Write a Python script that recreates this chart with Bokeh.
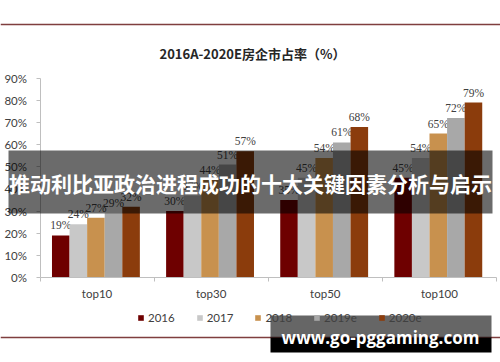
from bokeh.plotting import figure
from bokeh.models import (ColumnDataSource, FixedTicker, PrintfTickFormatter, Legend, LegendItem,
                          BoxAnnotation, Label, Range1d, LinearAxis)
from bokeh.embed import file_html
from bokeh.resources import INLINE

categories = ["top10", "top30", "top50", "top100"]
series = ["2016", "2017", "2018", "2019e", "2020e"]
s2016 = [19, 30, 35, 45]
s2017 = [24, 37, 45, 54]
s2018 = [27, 44, 54, 65]
s2019e = [29, 51, 61, 72]
s2020e = [32, 57, 68, 79]
values = [s2016, s2017, s2018, s2019e, s2020e]
colors = ["#6E0000", "#C8C8C8", "#C8914E", "#A8A8A8", "#8B3C0C"]
y_ticks = [0, 10, 20, 30, 40, 50, 60, 70, 80, 90]

title_text = "2016A-2020E房企市占率（%）"
banner_text = "推动利比亚政治进程成功的十大关键因素分析与启示"
watermark_text = "www.go-pggaming.com"

W, H = 500, 362
# plot-area placement in pixels (layout only)
PX_L, PX_R = 39.5, 496.0      # x = 0 and x = 4
PX_B, PX_T = 277.0, 77.7      # y = 0 and y = 90
kx = (PX_R - PX_L) / 4.0
ky = (PX_B - PX_T) / 90.0


def px2x(px):
    return (px - PX_L) / kx


def px2y(py):
    return (PX_B - py) / ky


p = figure(width=W, height=H, output_backend="svg", toolbar_location=None,
           x_axis_type=None, y_axis_type=None,
           x_range=Range1d(px2x(0), px2x(W)), y_range=Range1d(px2y(H), px2y(0)),
           min_border=0)
p.outline_line_color = None
p.xgrid.visible = False
p.ygrid.visible = False
p.background_fill_color = "white"

FONT = "Lato"
FS = "11.5px"
bw = 0.154
items = []
for i, (name, vals, col) in enumerate(zip(series, values, colors)):
    xs = [c + 0.5 + (i - 2) * bw - 0.01 for c in range(len(categories))]
    src = ColumnDataSource(dict(x=xs, top=vals, lab=[f"{v}%" for v in vals]))
    r = p.vbar(x="x", top="top", width=bw, source=src, fill_color=col, line_color=None)
    p.text(x="x", y="top", text="lab", source=src, text_align="center", text_baseline="bottom",
           y_offset=-4, text_font_size=FS, text_color="#404040", text_font=FONT)
    items.append(LegendItem(label=name, renderers=[r]))

# axes
xa = LinearAxis(fixed_location=0, bounds=(0, 4))
xa.ticker = FixedTicker(ticks=[c + 0.5 for c in range(len(categories))],
                        minor_ticks=list(range(len(categories) + 1)))
xa.major_label_overrides = {c + 0.5: n for c, n in enumerate(categories)}
xa.major_tick_line_color = None
xa.major_tick_out = 4
xa.minor_tick_out = 4
xa.minor_tick_in = 0
xa.minor_tick_line_color = "#BFBFBF"
xa.axis_line_color = "#BFBFBF"
xa.major_label_standoff = 5
xa.major_label_text_font_size = FS
xa.major_label_text_color = "#404040"
xa.major_label_text_font = FONT
p.add_layout(xa, "below")

ya = LinearAxis(fixed_location=0, bounds=(0, 90))
ya.ticker = FixedTicker(ticks=y_ticks)
ya.formatter = PrintfTickFormatter(format="%d%%")
ya.axis_line_color = "#BFBFBF"
ya.major_tick_line_color = "#BFBFBF"
ya.major_tick_out = 4
ya.major_tick_in = 0
ya.minor_tick_line_color = None
ya.major_label_standoff = 9
ya.major_label_text_font_size = FS
ya.major_label_text_color = "#404040"
ya.major_label_text_font = FONT
p.add_layout(ya, "left")


def box(l, r, t, b, color, alpha):
    p.add_layout(BoxAnnotation(left=px2x(l), right=px2x(r), top=px2y(t), bottom=px2y(b),
                               fill_color=color, fill_alpha=alpha, line_color=None,
                               level="overlay"))


def label(px, py, text, size, color, font, bold=True):
    p.add_layout(Label(x=px2x(px), y=px2y(py), text=text, text_align="center",
                       text_baseline="middle", text_font_size=size, text_color=color,
                       text_font=font, text_font_style="bold" if bold else "normal",
                       level="overlay"))


# top and bottom rules
box(0, W, 23.3, 24.8, "#7F3F3F", 1)
box(0, W, 336.3, 337.8, "#7F3F3F", 1)

# title
label(252, 53, title_text, "13px", "#262626", "Noto Sans CJK SC")

legend = Legend(items=items, orientation="horizontal", location=(137, 38),
                glyph_width=7, glyph_height=7, label_standoff=4, spacing=21, padding=0, margin=0,
                border_line_color=None, background_fill_alpha=0,
                label_text_font_size=FS, label_text_color="#404040", label_text_font=FONT)
p.add_layout(legend)

# banner overlay
box(8, 492, 150, 213, "black", 0.58)
label(250, 182, banner_text, "21px", "white", "Noto Sans CJK SC")

# watermark
box(270, 491, 315, 337, "black", 0.6)
box(270, 491, 337, 352, "black", 1)
label(380, 337, watermark_text, "17px", "white", "Open Sans")

open("out.html", "w").write(file_html(p, INLINE))
